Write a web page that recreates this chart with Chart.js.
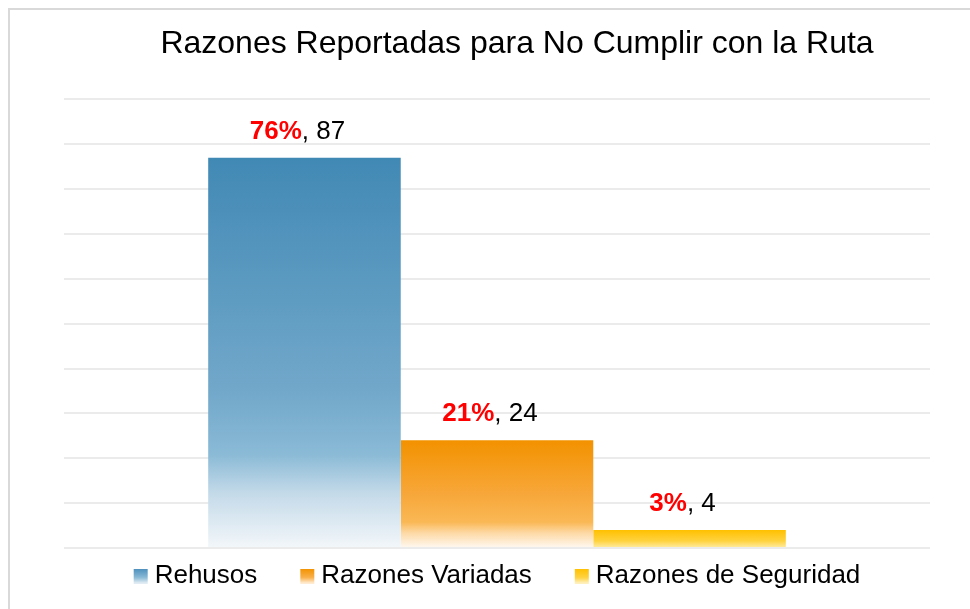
<!DOCTYPE html>
<html><head><meta charset="utf-8">
<script src="https://cdn.jsdelivr.net/npm/chart.js@4"></script>
<style>
html,body{margin:0;padding:0;background:#fff;overflow:hidden;width:970px;height:609px;}
#frame{position:absolute;left:8px;top:8px;width:1200px;height:900px;border:2px solid #d9d9d9;box-sizing:border-box;}
#c{position:absolute;left:0;top:0;}
</style></head><body>
<div id="frame"></div>
<canvas id="c" width="970" height="609"></canvas>
<script>
// ---- data ----
const categories = [''];
const seriesNames = ['Rehusos', 'Razones Variadas', 'Razones de Seguridad'];
const rehusos = [87];
const razonesVariadas = [24];
const razonesSeguridad = [4];
const percentLabels = ['76%', '21%', '3%'];
const yMin = 0, yMax = 100, yStep = 10;

// ---- styles ----
const FONT = "'Liberation Sans', Arial, sans-serif";
const gradStops = [
  [[0, '#4189B5'], [0.6, '#72A8CA'], [0.76, '#8ABAD6'], [0.86, '#C4DAE9'], [1, '#F3F7FA']],
  [[0, '#F39200'], [0.5, '#F7A73A'], [0.76, '#FAB855'], [0.86, '#FDD9A5'], [1, '#FFF9F2']],
  [[0, '#FFC000'], [0.6, '#FFD23E'], [1, '#FFEDA8']]
];
const legendStops = [
  [[0, '#4A8FBB'], [0.6, '#8ABAD6'], [1, '#E8F0F6']],
  [[0, '#F39200'], [0.6, '#F9B04A'], [1, '#FFF1DE']],
  [[0, '#FFC000'], [0.6, '#FFD23E'], [1, '#FFF3C8']]
];
const solid = ['#4189B5', '#F39200', '#FFC000'];

function barGradient(i) {
  return function (ctx) {
    const chart = ctx.chart;
    if (!chart.chartArea || ctx.raw === undefined) return solid[i];
    const ys = chart.scales.y;
    const top = ys.getPixelForValue(ctx.raw);
    const bot = ys.getPixelForValue(0);
    const g = chart.ctx.createLinearGradient(0, top, 0, bot);
    gradStops[i].forEach(s => g.addColorStop(s[0], s[1]));
    return g;
  };
}
function legendImg(i) {
  const c = document.createElement('canvas');
  c.width = 50; c.height = 15;
  const g = c.getContext('2d');
  const gr = g.createLinearGradient(0, 0, 0, 15);
  legendStops[i].forEach(s => gr.addColorStop(s[0], s[1]));
  g.fillStyle = gr;
  g.fillRect(35, 0, 14, 15);
  return c;
}

const seriesData = [rehusos, razonesVariadas, razonesSeguridad];
const datasets = seriesNames.map((name, i) => ({
  label: name,
  data: seriesData[i],
  backgroundColor: barGradient(i),
  borderWidth: 0,
  pointStyle: legendImg(i),
  categoryPercentage: 0.667,
  barPercentage: 1.0
}));

const labelPlugin = {
  id: 'valueLabels',
  afterDatasetsDraw(chart) {
    const ctx = chart.ctx;
    ctx.save();
    ctx.textBaseline = 'alphabetic';
    ctx.textAlign = 'left';
    chart.data.datasets.forEach((ds, i) => {
      const meta = chart.getDatasetMeta(i);
      meta.data.forEach((bar, j) => {
        const p = percentLabels[i];
        const rest = ', ' + ds.data[j];
        ctx.font = 'bold 26px ' + FONT;
        const w1 = ctx.measureText(p).width;
        ctx.font = '26px ' + FONT;
        const w2 = ctx.measureText(rest).width;
        const x0 = bar.x - (w1 + w2) / 2 - 7;
        const y = bar.y - 19;
        ctx.font = 'bold 26px ' + FONT;
        ctx.fillStyle = '#FF0000';
        ctx.fillText(p, x0, y);
        ctx.font = '26px ' + FONT;
        ctx.fillStyle = '#000000';
        ctx.fillText(rest, x0 + w1, y);
      });
    });
    ctx.restore();
  }
};

const legendShift = {
  id: 'legendShift',
  afterLayout(chart) {
    const l = chart.legend;
    if (l) { l.left -= 14; l.right -= 14; }
  }
};

new Chart(document.getElementById('c'), {
  type: 'bar',
  data: { labels: categories, datasets },
  options: {
    responsive: false,
    animation: false,
    devicePixelRatio: 1,
    layout: { padding: { left: 64, right: 0, top: 0, bottom: 10 } },
    plugins: {
      title: {
        display: true,
        text: 'Razones Reportadas para No Cumplir con la Ruta',
        color: '#000',
        font: { family: FONT, size: 32, weight: 'normal' },
        padding: { top: 25, bottom: 36 }
      },
      legend: {
        position: 'bottom',
        fullSize: false,
        labels: {
          usePointStyle: true,
          pointStyleWidth: 36,
          color: '#000',
          font: { family: FONT, size: 26 },
          padding: 15
        }
      },
      tooltip: { enabled: false }
    },
    scales: {
      x: { display: false },
      y: {
        min: yMin, max: yMax,
        ticks: { display: false, stepSize: yStep },
        grid: { color: '#EBEBEB', lineWidth: 2, drawTicks: false },
        border: { display: false },
        afterFit: s => { s.width = 0; }
      },
      y2: {
        position: 'right',
        display: true,
        min: yMin, max: yMax,
        ticks: { display: false },
        grid: { display: false, drawTicks: false },
        border: { display: false },
        afterFit: s => { s.width = 40; }
      }
    }
  },
  plugins: [labelPlugin, legendShift]
});
</script>
</body></html>
